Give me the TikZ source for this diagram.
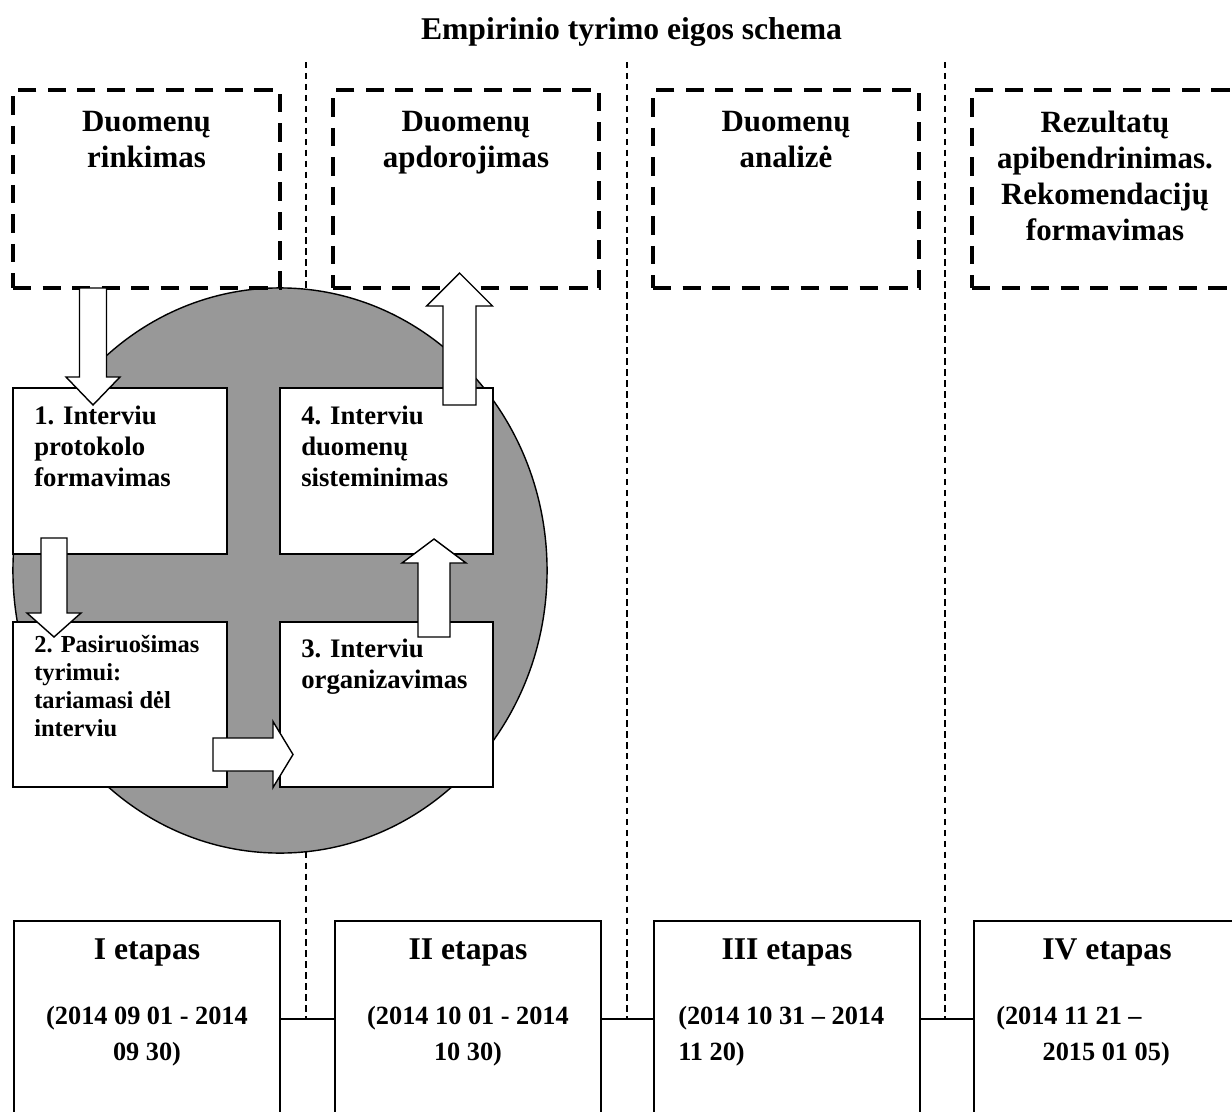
\documentclass[tikz,border=0pt]{standalone}
\usepackage{fontspec}
\setmainfont{Liberation Serif}
\usetikzlibrary{calc,fit}
\definecolor{circgray}{RGB}{152,152,152}
\newcommand\vblockarrow[5]{%
  \draw[barrow] ($(#1)+(-#3,0)$) -- ($(#2)+(-#3,{-1*(#5)})$) -- ($(#2)+(-#4,{-1*(#5)})$) -- (#2)
    -- ($(#2)+(#4,{-1*(#5)})$) -- ($(#2)+(#3,{-1*(#5)})$) -- ($(#1)+(#3,0)$) -- cycle;}
\newcommand\hblockarrow[5]{%
  \draw[barrow] ($(#1)+(0,-#3)$) -- ($(#2)+({-1*(#5)},-#3)$) -- ($(#2)+({-1*(#5)},-#4)$) -- (#2)
    -- ($(#2)+({-1*(#5)},#4)$) -- ($(#2)+({-1*(#5)},#3)$) -- ($(#1)+(0,#3)$) -- cycle;}
\begin{document}
\begin{tikzpicture}[x=0.025cm,y=-0.025cm,
  dbox/.style={draw, line width=2.8pt, dash pattern=on 13pt off 8pt, inner sep=0pt, outer sep=0pt},
  wbox/.style={draw, fill=white, line width=1pt, inner sep=0pt, outer sep=0pt},
  ebox/.style={draw, fill=white, line width=1.1pt, inner sep=0pt, outer sep=0pt},
  vdash/.style={line width=0.8pt, dash pattern=on 4.6pt off 3.2pt},
  conn/.style={line width=1.1pt},
  barrow/.style={draw, fill=white, line width=1pt, line join=miter},
  circfill/.style={draw, fill=circgray, line width=1pt},
  titletext/.style={font=\bfseries\fontsize{22.5}{26}\selectfont, inner sep=0pt, anchor=north},
  headtext/.style={font=\bfseries\fontsize{22}{25.5}\selectfont, inner sep=0pt, anchor=north, align=center},
  steptext/.style={font=\bfseries\fontsize{19}{22}\selectfont, inner sep=0pt, anchor=north west, align=left},
  steptextsmall/.style={font=\bfseries\fontsize{17.4}{19.8}\selectfont, inner sep=0pt, anchor=north west, align=left},
  etaptext/.style={font=\bfseries\fontsize{22.5}{26}\selectfont, inner sep=0pt, anchor=north},
  datetext/.style={font=\bfseries\fontsize{18.7}{25.5}\selectfont, inner sep=0pt}
]
\clip (0,0) rectangle (1232,1112);

% title
\node[titletext] (title) at (631.5,17) {Empirinio tyrimo eigos schema};

% stage boxes at the bottom
\node[ebox, fit={(14,921) (280,1117)}] (e1) {};
\node[ebox, fit={(335,921) (601,1117)}] (e2) {};
\node[ebox, fit={(654,921) (920,1117)}] (e3) {};
\node[ebox, fit={(974,921) (1240,1117)}] (e4) {};
\draw[conn] (e1.east) -- (e2.west);
\draw[conn] (e2.east) -- (e3.west);
\draw[conn] (e3.east) -- (e4.west);

% vertical dashed separators
\coordinate (v1) at (306,62);
\coordinate (v2) at (627,62);
\coordinate (v3) at (945,62);
\draw[vdash] (v1) -- (v1 |- e1.east);
\draw[vdash] (v2) -- (v2 |- e2.east);
\draw[vdash] (v3) -- (v3 |- e3.east);

% grey ellipse
\draw[circfill] (280,570.5) ellipse [x radius=6.675cm, y radius=7.0625cm];

% dashed phase boxes
\node[dbox, fit={(13,90) (280,288)}] (d1) {};
\node[dbox, fit={(333,90) (599,288)}] (d2) {};
\node[dbox, fit={(653,90) (919,288)}] (d3) {};
\node[dbox, fit={(972,90) (1238,288)}] (d4) {};
\node[headtext] (h1) at ($(d1.north)+(0,21)$) {Duomenų\\rinkimas};
\node[headtext] (h2) at ($(d2.north)+(0,21)$) {Duomenų\\apdorojimas};
\node[headtext] (h3) at ($(d3.north)+(0,21)$) {Duomenų\\analizė};
\node[headtext] (h4) at ($(d4.north)+(0,21)$) {Rezultatų\\apibendrinimas.\\Rekomendacijų\\formavimas};

% step boxes
\node[wbox, fit={(13,388) (227,554)}] (b1) {};
\node[wbox, fit={(280,388) (493,554)}] (b4) {};
\node[wbox, fit={(13,622) (227,787)}] (b2) {};
\node[wbox, fit={(280,622) (493,787)}] (b3) {};
\node[steptext] (t1) at ($(b1.north west)+(21,18)$) {1. Interviu\\protokolo\\formavimas};
\node[steptext] (t4) at ($(b4.north west)+(21,18)$) {4. Interviu\\duomenų\\sisteminimas};
\node[steptextsmall] (t2) at ($(b2.north west)+(21,13)$) {2. Pasiruošimas\\tyrimui:\\tariamasi dėl\\interviu};
\node[steptext] (t3) at ($(b3.north west)+(21,17)$) {3. Interviu\\organizavimas};

% stage texts
\node[etaptext] (s1) at ($(e1.north)+(0,17)$) {I etapas};
\node[etaptext] (s2) at ($(e2.north)+(0,17)$) {II etapas};
\node[etaptext] (s3) at ($(e3.north)+(0,17)$) {III etapas};
\node[etaptext] (s4) at ($(e4.north)+(0,17)$) {IV etapas};
\node[datetext, anchor=north, align=center] (p1) at ($(e1.north)+(0,85)$) {(2014 09 01 - 2014\\09 30)};
\node[datetext, anchor=north, align=center] (p2) at ($(e2.north)+(0,85)$) {(2014 10 01 - 2014\\10 30)};
\node[datetext, anchor=north west, align=left] (p3) at ($(e3.north west)+(24,85)$) {(2014 10 31 – 2014\\11 20)};
\node[datetext, anchor=north west, align=left] (p4) at ($(e4.north west)+(22,85)$) {(2014 11 21 –\\\hspace*{33pt}2015 01 05)};

% block arrows
\coordinate (aA1) at (93,288);   \coordinate (aA2) at (93,405);
\coordinate (aC1) at (54,538);   \coordinate (aC2) at (54,637);
\coordinate (aE1) at (213,754.5); \coordinate (aE2) at (293,754.5);
\coordinate (aD1) at (434,637);  \coordinate (aD2) at (434,539);
\coordinate (aB1) at (459.5,405); \coordinate (aB2) at (459.5,273);
\vblockarrow{aA1}{aA2}{13.5}{27}{28}
\vblockarrow{aC1}{aC2}{13}{27}{24}
\hblockarrow{aE1}{aE2}{16.5}{33}{20}
\vblockarrow{aD1}{aD2}{16}{32}{-24}
\vblockarrow{aB1}{aB2}{16.5}{33}{-33}
\end{tikzpicture}
\end{document}
